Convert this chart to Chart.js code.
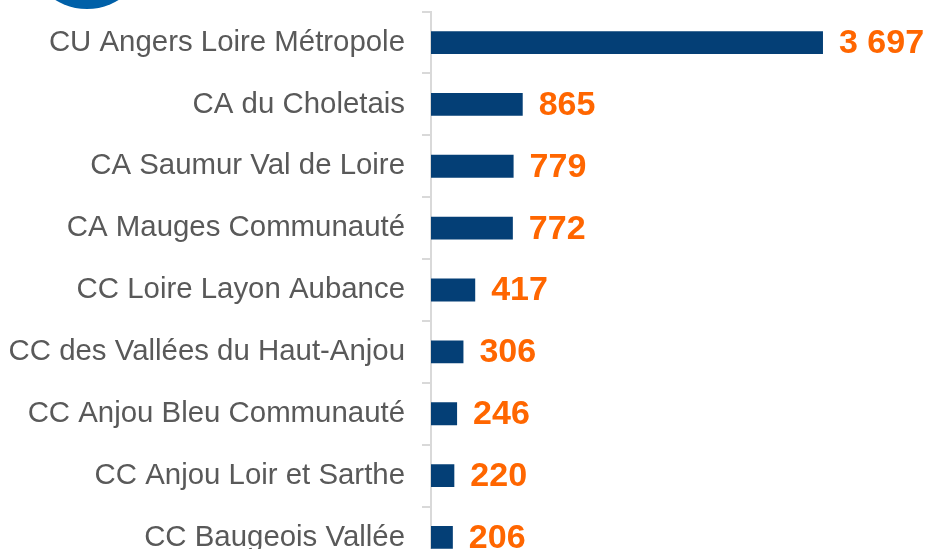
<!DOCTYPE html>
<html>
<head>
<meta charset="utf-8">
<script src="https://cdn.jsdelivr.net/npm/chart.js@4/dist/chart.umd.min.js"></script>
<style>
  html, body { margin:0; padding:0; background:#fff; overflow:hidden; width:929px; height:549px; }
  #c { position:absolute; left:0; top:-23px; }
  #dot { position:absolute; left:27px; top:-111px; width:120px; height:120px; border-radius:50%; background:#0060a8; }
</style>
</head>
<body>
<canvas id="c" width="929" height="626" style="width:929px;height:626px;"></canvas>
<div id="dot"></div>
<script>
const categories = [
  "CU Angers Loire Métropole",
  "CA du Choletais",
  "CA Saumur Val de Loire",
  "CA Mauges Communauté",
  "CC Loire Layon Aubance",
  "CC des Vallées du Haut-Anjou",
  "CC Anjou Bleu Communauté",
  "CC Anjou Loir et Sarthe",
  "CC Baugeois Vallée"
];
const values = [3697, 865, 779, 772, 417, 306, 246, 220, 206];
const xMax = 4697;

function fmt(v) {
  return String(v).replace(/\B(?=(\d{3})+(?!\d))/g, "\u00A0");
}

const valueLabels = {
  id: 'valueLabels',
  afterDatasetsDraw(chart) {
    const ctx = chart.ctx;
    const meta = chart.getDatasetMeta(0);
    ctx.save();
    ctx.font = 'bold 34px "Liberation Sans", Arial, sans-serif';
    ctx.fillStyle = '#ff6600';
    ctx.textAlign = 'left';
    ctx.textBaseline = 'middle';
    meta.data.forEach((bar, i) => {
      ctx.fillText(fmt(values[i]), bar.x + 16, bar.y + 1);
    });
    ctx.restore();
  }
};

new Chart(document.getElementById('c'), {
  type: 'bar',
  data: {
    labels: categories,
    datasets: [{
      data: values,
      backgroundColor: '#043f76',
      borderWidth: 0,
      barPercentage: 0.37,
      categoryPercentage: 1.0
    }]
  },
  options: {
    indexAxis: 'y',
    responsive: false,
    devicePixelRatio: 1,
    animation: false,
    layout: { padding: { top: 10, bottom: 2, left: 0, right: 0 } },
    plugins: { legend: { display: false }, tooltip: { enabled: false } },
    scales: {
      x: { display: false, min: 0, max: xMax },
      y: {
        afterFit(scale) { scale.width = 431; },
        border: { display: true, color: '#d9d9d9', width: 2 },
        grid: { display: true, drawOnChartArea: false, drawTicks: true, tickLength: 9, color: '#d9d9d9', lineWidth: 2, offset: true },
        ticks: {
          padding: 17,
          color: '#595959',
          font: { family: '"Liberation Sans", Arial, sans-serif', size: 29.4 }
        }
      }
    }
  },
  plugins: [valueLabels]
});
</script>
</body>
</html>
